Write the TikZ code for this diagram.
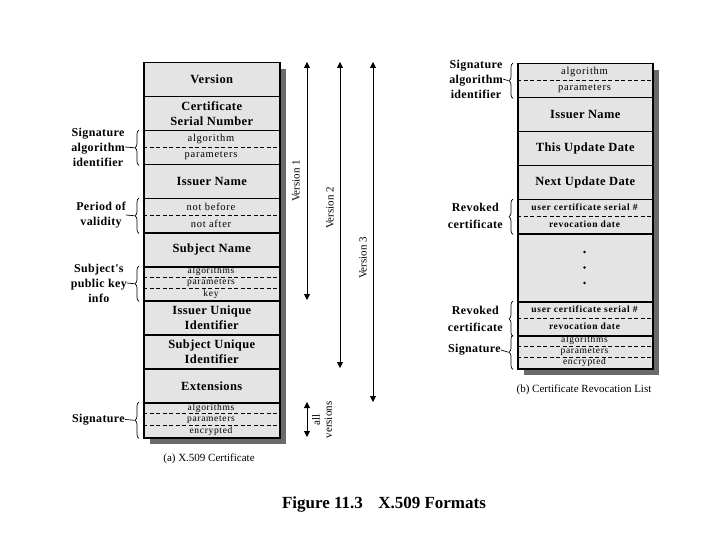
\documentclass[tikz,border=0pt]{standalone}
\usepackage{fontspec}
\setmainfont{Liberation Serif}
\newfontfamily\subfont[LetterSpace=7]{Liberation Serif}
\newfontfamily\boxfont[LetterSpace=3]{Liberation Serif}
\usetikzlibrary{decorations.pathreplacing,arrows.meta}
\definecolor{cellgrey}{HTML}{E4E4E4}
\definecolor{shadowgrey}{HTML}{6A6A6A}
\tikzset{
  cellL/.style={draw=black,line width=1.5pt,fill=cellgrey,minimum width=136pt,inner sep=0pt,anchor=north west,align=center,
    font=\boxfont\fontsize{12.5}{15}\selectfont\bfseries},
  cellR/.style={cellL,minimum width=135pt},
  subtxt/.style={inner sep=0pt,font=\subfont\fontsize{10.5}{11}\selectfont},
  subsmall/.style={inner sep=0pt,font=\subfont\fontsize{9.5}{10}\selectfont},
  subbold/.style={inner sep=0pt,font=\subfont\fontsize{9.5}{10}\selectfont\bfseries},
  sep/.style={dashed,line width=0.8pt,dash pattern=on 4pt off 2.5pt},
  lbl/.style={align=center,inner sep=0pt,anchor=east,font=\boxfont\fontsize{12}{15}\selectfont\bfseries},
  brc/.style={decorate,decoration={brace,amplitude=4pt},line width=0.7pt},
  tick/.style={line width=0.7pt},
  ver/.style={line width=0.8pt,{Triangle[width=6pt,length=6pt]}-{Triangle[width=6pt,length=6pt]}},
  vlbl/.style={rotate=90,inner sep=0pt,font=\fontsize{11}{12}\selectfont,align=center},
  capt/.style={inner sep=0pt,font=\fontsize{11}{12}\selectfont},
}
\begin{document}
\begin{tikzpicture}[x=1pt,y=-1pt]
\useasboundingbox (0,0) rectangle (720,540);
% shadows
\fill[shadowgrey] (150,69) rectangle (286,444);
\fill[shadowgrey] (524,70) rectangle (659,375);
% ---------- left table ----------
\node[cellL,minimum height=34pt] (ver) at (143,62) {Version};
\node[cellL,minimum height=34pt] (csn) at (143,96) {Certificate\\Serial Number};
\node[cellL,minimum height=34pt] (sai) at (143,130) {};
\node[cellL,minimum height=34pt] (isn) at (143,164) {Issuer Name};
\node[cellL,minimum height=34pt] (pov) at (143,198) {};
\node[cellL,minimum height=34pt] (sbn) at (143,232) {Subject Name};
\node[cellL,minimum height=34pt] (spk) at (143,266) {};
\node[cellL,minimum height=34pt] (iui) at (143,300) {Issuer Unique\\Identifier};
\node[cellL,minimum height=34pt] (sui) at (143,334) {Subject Unique\\Identifier};
\node[cellL,minimum height=34pt] (ext) at (143,368) {Extensions};
\node[cellL,minimum height=35pt] (sig) at (143,402) {};
% sub fields
\node[subtxt] (sai1) at (211,138.5) {algorithm};
\node[subtxt] (sai2) at (211,155.5) {parameters};
\draw[sep] (143,147) -- (279,147);
\node[subtxt] (pov1) at (211,206.5) {not before};
\node[subtxt] (pov2) at (211,223.5) {not after};
\draw[sep] (143,215) -- (279,215);
\node[subsmall] (spk1) at (211,271.7) {algorithms};
\node[subsmall] (spk2) at (211,283.2) {parameters};
\node[subsmall] (spk3) at (211,294.6) {key};
\draw[sep] (143,277.4) -- (279,277.4);
\draw[sep] (143,288.8) -- (279,288.8);
\node[subsmall] (sig1) at (211,407.8) {algorithms};
\node[subsmall] (sig2) at (211,419.5) {parameters};
\node[subsmall] (sig3) at (211,431.2) {encrypted};
\draw[sep] (143,413.7) -- (279,413.7);
\draw[sep] (143,425.3) -- (279,425.3);
% left braces and labels
\draw[brc] ([xshift=-4pt]sai.south west) -- ([xshift=-4pt]sai.north west);
\coordinate (saitip) at ([xshift=-8.5pt]sai.west);
\node[lbl] (saiL) at (125,147) {Signature\\algorithm\\identifier};
\draw[tick] (saiL.east) -- (saitip);
\draw[brc] ([xshift=-4pt]pov.south west) -- ([xshift=-4pt]pov.north west);
\coordinate (povtip) at ([xshift=-8.5pt]pov.west);
\node[lbl] (povL) at (126,215) {Period of\\validity};
\draw[tick] (povL.east) -- (povtip);
\draw[brc] ([xshift=-4pt]spk.south west) -- ([xshift=-4pt]spk.north west);
\coordinate (spktip) at ([xshift=-8.5pt]spk.west);
\node[lbl] (spkL) at (127,283) {Subject's\\public key\\info};
\draw[tick] (spkL.east) -- (spktip);
\draw[brc] ([xshift=-4pt]sig.south west) -- ([xshift=-4pt]sig.north west);
\coordinate (sigtip) at ([xshift=-8.5pt]sig.west);
\node[lbl] (sigL) at (125,419.5) {Signature};
\draw[tick] (sigL.east) -- (sigtip);
% version arrows
\coordinate (v1a) at (307,62);
\coordinate (v1b) at (307,300);
\coordinate (v2a) at (340,62);
\coordinate (v2b) at (340,368);
\coordinate (v3a) at (373,62);
\coordinate (v3b) at (373,402);
\coordinate (ava) at (307,402);
\coordinate (avb) at (307,437);
\draw[ver] (v1a) -- (v1b);
\draw[ver] (v2a) -- (v2b);
\draw[ver] (v3a) -- (v3b);
\draw[ver] (ava) -- (avb);
\node[vlbl] (v1L) at (296,181) {Version 1};
\node[vlbl] (v2L) at (330,208) {Version 2};
\node[vlbl] (v3L) at (363,258) {Version 3};
\node[vlbl] (avL) at (322,420) {all\\versions};
\node[capt] (captA) at (209,459) {(a) X.509 Certificate};
% ---------- right table ----------
\node[cellR,minimum height=34pt] (rsai) at (517,63) {};
\node[cellR,minimum height=34pt] (risn) at (517,97) {Issuer Name};
\node[cellR,minimum height=34pt] (rtud) at (517,131) {This Update Date};
\node[cellR,minimum height=34pt] (rnud) at (517,165) {Next Update Date};
\node[cellR,minimum height=34pt] (rrc1) at (517,199) {};
\node[cellR,minimum height=68pt] (rdot) at (517,233) {};
\node[cellR,minimum height=34pt] (rrc2) at (517,301) {};
\node[cellR,minimum height=33pt] (rsig) at (517,335) {};
\node[subtxt] (rsai1) at (584.5,71.5) {algorithm};
\node[subtxt] (rsai2) at (584.5,88.5) {parameters};
\draw[sep] (517,80) -- (652,80);
\node[subbold] (rrc11) at (584.5,207.5) {user certificate serial \#};
\node[subbold] (rrc12) at (584.5,224.5) {revocation date};
\draw[sep] (517,216) -- (652,216);
\fill (584.5,252) circle (1.3pt);
\fill (584.5,267.5) circle (1.3pt);
\fill (584.5,283) circle (1.3pt);
\node[subbold] (rrc21) at (584.5,309.5) {user certificate serial \#};
\node[subbold] (rrc22) at (584.5,326.5) {revocation date};
\draw[sep] (517,318) -- (652,318);
\node[subsmall] (rsig1) at (584.5,340.5) {algorithms};
\node[subsmall] (rsig2) at (584.5,351.5) {parameters};
\node[subsmall] (rsig3) at (584.5,362.5) {encrypted};
\draw[sep] (517,346) -- (652,346);
\draw[sep] (517,357) -- (652,357);
% right braces and labels
\draw[brc] ([xshift=-4pt]rsai.south west) -- ([xshift=-4pt]rsai.north west);
\coordinate (rsaitip) at ([xshift=-8.5pt]rsai.west);
\node[lbl] (rsaiL) at (503,79) {Signature\\algorithm\\identifier};
\draw[tick] (rsaiL.east) -- (rsaitip);
\draw[brc] ([xshift=-4pt]rrc1.south west) -- ([xshift=-4pt]rrc1.north west);
\node[lbl,font=\boxfont\fontsize{12}{17}\selectfont\bfseries] (rrc1L) at (503,216) {Revoked\\certificate};
\draw[brc] ([xshift=-4pt]rrc2.south west) -- ([xshift=-4pt]rrc2.north west);
\node[lbl,font=\boxfont\fontsize{12}{17}\selectfont\bfseries] (rrc2L) at (503,318.5) {Revoked\\certificate};
\draw[brc] ([xshift=-4pt]rsig.south west) -- ([xshift=-4pt]rsig.north west);
\coordinate (rsigtip) at ([xshift=-8.5pt]rsig.west);
\node[lbl] (rsigL) at (501,350) {Signature};
\draw[tick] (rsigL.east) -- (rsigtip);
\node[capt] (captB) at (584,390) {(b) Certificate Revocation List};
% figure caption
\node[inner sep=0pt,font=\fontsize{17}{19}\selectfont\bfseries] (fig) at (384,504) {Figure 11.3\hspace{0.9em}X.509 Formats};
\end{tikzpicture}
\end{document}
